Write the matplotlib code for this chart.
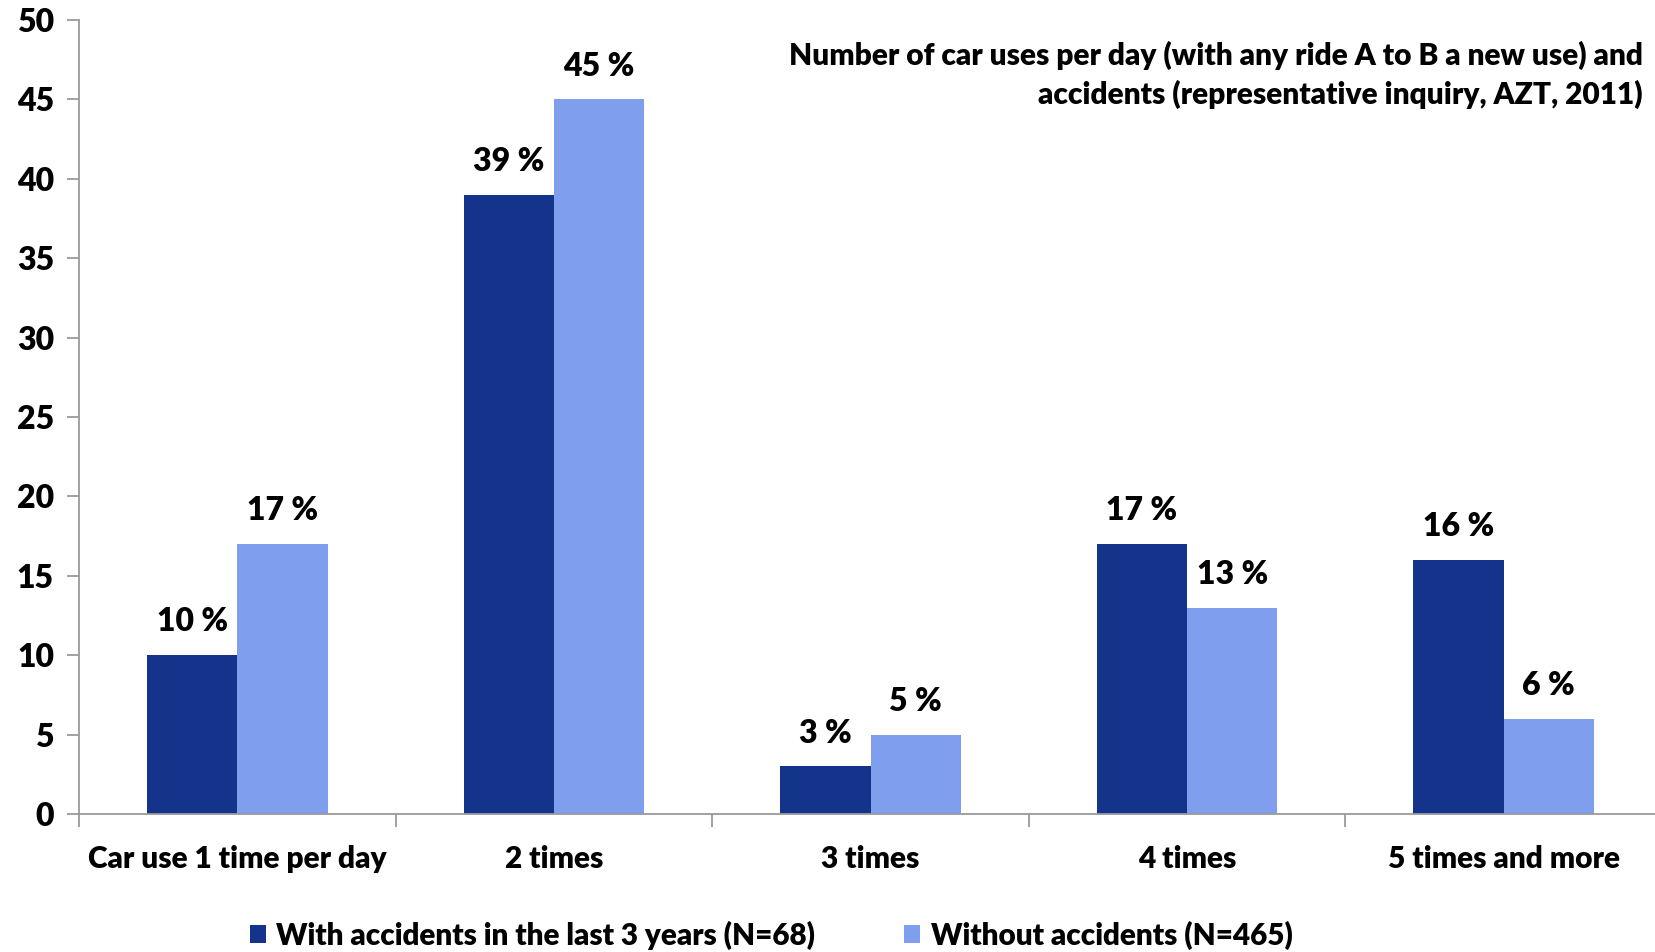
import matplotlib
matplotlib.use("Agg")
import matplotlib.pyplot as plt
import numpy as np

categories = ["Car use 1 time per day", "2 times", "3 times", "4 times", "5 times and more"]
with_accidents = [10, 39, 3, 17, 16]
without_accidents = [17, 45, 5, 13, 6]
series_names = ["With accidents in the last 3 years (N=68)", "Without accidents (N=465)"]
title_text = ("Number of car uses per day (with any ride A to B a new use) and\n"
              "accidents (representative inquiry, AZT, 2011)")

DARK = "#13348A"
LIGHT = "#7F9FEE"
WEIGHT = 800

plt.rcParams["font.family"] = ["Lato", "DejaVu Sans"]
plt.rcParams["font.weight"] = "bold"

fig = plt.figure(figsize=(16.55, 9.52), dpi=100)
# axis runs a bit past the right edge of the figure, as in the original
ax = fig.add_axes([79 / 1655, 1 - 814 / 952, 1583 / 1655, (814 - 20) / 952])

x = np.arange(len(categories))
w = 0.285
b1 = ax.bar(x - w / 2, with_accidents, w, color=DARK, label=series_names[0])
b2 = ax.bar(x + w / 2, without_accidents, w, color=LIGHT, label=series_names[1])

for bars, vals in ((b1, with_accidents), (b2, without_accidents)):
    for bar, v in zip(bars, vals):
        ax.text(bar.get_x() + bar.get_width() / 2, v + 2.1, f"{v} %",
                ha="center", va="center", fontsize=23, fontweight=WEIGHT)

ax.set_xlim(-0.5, len(categories) - 0.5)
ax.set_ylim(0, 50)
ax.set_yticks(range(0, 51, 5))
ax.set_xticks(np.arange(-0.5, len(categories), 1.0))
ax.set_xticklabels([])
ax.set_xticks(x, minor=True)
ax.set_xticklabels(categories, minor=True)

for s in ("top", "right"):
    ax.spines[s].set_visible(False)
for s in ("left", "bottom"):
    ax.spines[s].set_color("#9a9a9a")
    ax.spines[s].set_linewidth(1.3)

ax.tick_params(axis="y", which="major", length=9, width=1.3, color="#9a9a9a",
               labelsize=23, pad=9)
ax.tick_params(axis="x", which="major", length=9, width=1.3, color="#9a9a9a")
ax.tick_params(axis="x", which="minor", length=0, labelsize=21.5, pad=22)
for lbl in ax.get_yticklabels() + ax.get_xticklabels(minor=True):
    lbl.set_fontweight(WEIGHT)

fig.text(1643 / 1655, 1 - 41 / 952, title_text, ha="right", va="top",
         fontsize=21.5, fontweight=WEIGHT, linespacing=1.42)

leg = fig.legend(handles=[b1, b2], labels=series_names, loc="center",
                 bbox_to_anchor=(771 / 1655, 1 - 935 / 952), ncol=2, frameon=False,
                 fontsize=21.3, handlelength=0.55, handleheight=0.55, handletextpad=0.35,
                 columnspacing=3.0)
for t in leg.get_texts():
    t.set_fontweight(WEIGHT)

fig.savefig("out.png", dpi=100)
